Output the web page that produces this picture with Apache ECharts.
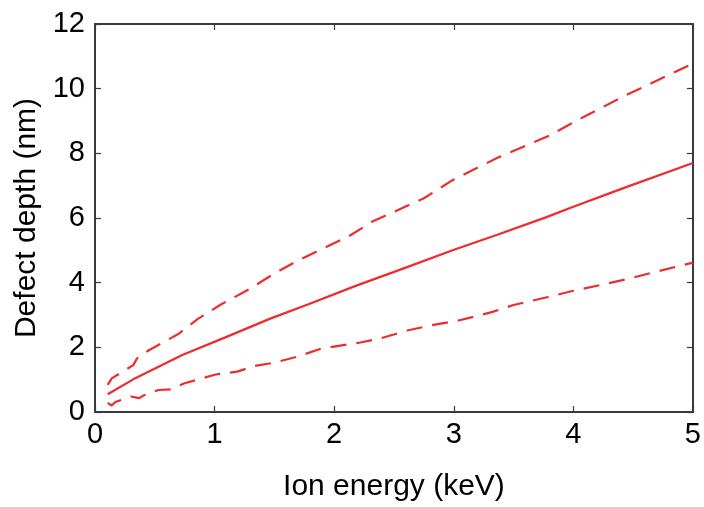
<!DOCTYPE html>
<html>
<head>
<meta charset="utf-8">
<script src="https://cdn.jsdelivr.net/npm/echarts@6/dist/echarts.min.js"></script>
<style>
html,body{margin:0;padding:0;background:#fff;}
#c{width:704px;height:507px;}
</style>
</head>
<body>
<div id="c"></div>
<script>
// Mean defect depth (solid)
const meanX = [0.106, 0.32, 0.73, 1.13, 1.46, 1.79, 2.18, 2.61, 2.99, 3.37, 3.77, 4.0, 4.43, 5.0];
const meanY = [0.55, 1.01, 1.76, 2.37, 2.88, 3.34, 3.90, 4.48, 5.00, 5.49, 6.02, 6.35, 6.94, 7.70];
// Upper bound (dashed)
const upperX = [0.106, 0.14, 0.32, 0.35, 0.45, 0.70, 0.86, 1.06, 1.29, 1.49, 1.69, 1.89, 2.12, 2.32, 2.75, 2.99, 3.37, 3.80, 4.0, 4.43, 5.0];
const upperY = [0.84, 1.04, 1.45, 1.65, 1.91, 2.42, 2.88, 3.34, 3.80, 4.26, 4.67, 5.03, 5.43, 5.89, 6.61, 7.17, 7.87, 8.55, 8.96, 9.78, 10.78];
// Lower bound (dashed)
const lowerX = [0.106, 0.14, 0.17, 0.30, 0.37, 0.40, 0.53, 0.63, 0.75, 1.01, 1.19, 1.33, 1.49, 1.69, 1.89, 2.22, 2.38, 2.61, 2.81, 3.04, 3.31, 3.50, 3.77, 4.0, 4.23, 4.45, 4.66, 5.0];
const lowerY = [0.28, 0.20, 0.31, 0.48, 0.43, 0.50, 0.68, 0.70, 0.89, 1.16, 1.25, 1.42, 1.52, 1.71, 1.96, 2.15, 2.27, 2.52, 2.68, 2.83, 3.08, 3.31, 3.54, 3.75, 3.93, 4.11, 4.31, 4.62];
const xTicks = [0, 1, 2, 3, 4, 5];
const yTicks = [0, 2, 4, 6, 8, 10, 12];
const xTitle = 'Ion energy (keV)';
const yTitle = 'Defect depth (nm)';

const pairs = (xs, ys) => xs.map((x, i) => [x, ys[i]]);
const RED = '#ee2b2e';
const FONT = 'Liberation Sans, Arial, Helvetica, sans-serif';
const axisLineStyle = {color: '#3a3a3a', width: 2};
const tickStyle = {color: '#3a3a3a', width: 1.2};

const chart = echarts.init(document.getElementById('c'), null, {renderer: 'canvas'});
chart.setOption({
  animation: false,
  backgroundColor: '#fff',
  grid: {left: 95, right: 9, top: 24, bottom: 92, containLabel: false},
  xAxis: [{
    type: 'value', min: xTicks[0], max: xTicks[xTicks.length - 1], interval: 1,
    name: xTitle, nameLocation: 'middle', nameGap: 60,
    nameTextStyle: {fontFamily: FONT, fontSize: 30, color: '#000'},
    axisLine: {show: true, onZero: false, lineStyle: axisLineStyle},
    axisTick: {show: true, inside: true, length: 6, lineStyle: tickStyle},
    axisLabel: {fontFamily: FONT, fontSize: 29, color: '#000', margin: 8},
    splitLine: {show: false}
  }, {
    type: 'value', position: 'top', min: 0, max: 5, interval: 1,
    axisLine: {show: true, onZero: false, lineStyle: axisLineStyle},
    axisTick: {show: true, inside: true, length: 6, lineStyle: tickStyle},
    axisLabel: {show: false}, splitLine: {show: false}
  }],
  yAxis: [{
    type: 'value', min: yTicks[0], max: yTicks[yTicks.length - 1], interval: 2,
    name: yTitle, nameLocation: 'middle', nameGap: 50, nameRotate: 90,
    nameTextStyle: {fontFamily: FONT, fontSize: 30, color: '#000'},
    axisLine: {show: true, onZero: false, lineStyle: axisLineStyle},
    axisTick: {show: true, inside: true, length: 6, lineStyle: tickStyle},
    axisLabel: {fontFamily: FONT, fontSize: 29, color: '#000', margin: 10},
    splitLine: {show: false}
  }, {
    type: 'value', position: 'right', min: 0, max: 12, interval: 2,
    axisLine: {show: true, onZero: false, lineStyle: axisLineStyle},
    axisTick: {show: true, inside: true, length: 6, lineStyle: tickStyle},
    axisLabel: {show: false}, splitLine: {show: false}
  }],
  series: [
    {type: 'line', data: pairs(meanX, meanY), showSymbol: false, symbol: 'none',
     lineStyle: {color: RED, width: 2.2}},
    {type: 'line', data: pairs(upperX, upperY), showSymbol: false, symbol: 'none',
     lineStyle: {color: RED, width: 2.2, type: [16, 10]}},
    {type: 'line', data: pairs(lowerX, lowerY), showSymbol: false, symbol: 'none',
     lineStyle: {color: RED, width: 2.2, type: [16, 10]}}
  ]
});
</script>
</body>
</html>
